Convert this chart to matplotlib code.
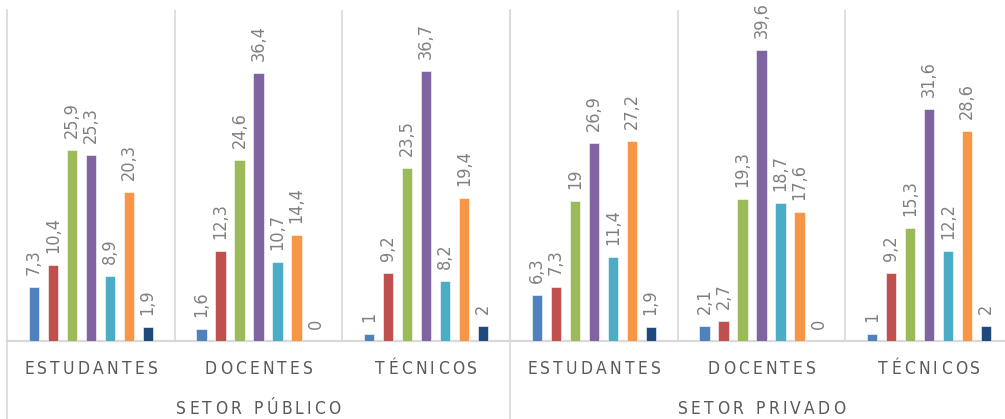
import numpy as np
import matplotlib
matplotlib.use('Agg')
import matplotlib.pyplot as plt
from matplotlib.font_manager import FontProperties

# data
setores = ['SETOR PÚBLICO', 'SETOR PRIVADO']
categorias = ['ESTUDANTES', 'DOCENTES', 'TÉCNICOS', 'ESTUDANTES', 'DOCENTES', 'TÉCNICOS']

serie1 = [7.3, 1.6, 1, 6.3, 2.1, 1]
serie2 = [10.4, 12.3, 9.2, 7.3, 2.7, 9.2]
serie3 = [25.9, 24.6, 23.5, 19, 19.3, 15.3]
serie4 = [25.3, 36.4, 36.7, 26.9, 39.6, 31.6]
serie5 = [8.9, 10.7, 8.2, 11.4, 18.7, 12.2]
serie6 = [20.3, 14.4, 19.4, 27.2, 17.6, 28.6]
serie7 = [1.9, 0, 2, 1.9, 0, 2]

series = [serie1, serie2, serie3, serie4, serie5, serie6, serie7]
cores = ['#4F81BD', '#C0504D', '#9BBB59', '#8064A2', '#4BACC6', '#F79646', '#1F497D']

plt.rcParams['font.family'] = ['DejaVu Sans']
plt.rcParams['font.stretch'] = 'condensed'

fig = plt.figure(figsize=(10.05, 4.19), dpi=100)
W, H = 1005.0, 419.0
# axes from x=7 to x=1013 px (last group runs past the edge), y=10 to 341 px
ax = fig.add_axes([7 / W, 1 - 341 / H, (1013 - 7) / W, (341 - 10) / H])
ax.set_xlim(0, 6)
ax.set_ylim(0, 45)
ax.axis('off')

pitch = 0.1131
largura = 0.0615
x = np.arange(6) + 0.5
for j, (vals, cor) in enumerate(zip(series, cores)):
    xs = x + (j - 3) * pitch
    ax.bar(xs, vals, width=largura, color=cor, edgecolor='white', linewidth=0.4, zorder=3)
    for xi, v in zip(xs, vals):
        txt = ('%g' % v).replace('.', ',')
        ax.annotate(txt, (xi, v), xytext=(0, 12), textcoords='offset pixels',
                    rotation=90, ha='center', va='bottom', fontsize=13,
                    color='#808080')

# baseline and separators
ax.axhline(0, color='#D9D9D9', linewidth=1.6, zorder=2, clip_on=False)
for k in range(1, 6):
    ax.axvline(k, ymin=0, ymax=1, color='#D9D9D9', linewidth=1.2, zorder=1)

# separators running through the label area (left edge and sector split)
for xf in [7 / W, 510 / W]:
    fig.add_artist(plt.Line2D([xf, xf], [0, 1 - 10 / H], color='#D9D9D9', linewidth=1.2))

renderer = fig.canvas.get_renderer()


def texto_espacado(xc, yb, s, size, gap, espaco):
    # draws s letter by letter (letter spacing), centred at pixel xc, baseline yb
    prop = FontProperties(family='DejaVu Sans', stretch='condensed', size=size)
    larguras = []
    for ch in s:
        if ch == ' ':
            larguras.append(espaco)
        else:
            w, h, d = renderer.get_text_width_height_descent(ch, prop, ismath=False)
            larguras.append(w)
    total = sum(larguras) + gap * (len(s) - 1)
    xp = xc - total / 2
    for ch, w in zip(s, larguras):
        if ch != ' ':
            fig.text(xp / W, 1 - yb / H, ch, fontproperties=prop, color='#595959',
                     ha='left', va='baseline')
        xp += w + gap


for i, cat in enumerate(categorias):
    xc = 7 + (1013 - 7) / 6 * (i + 0.5)
    texto_espacado(xc, 374, cat, 12.5, 3.2, 6)

for i, s in enumerate(setores):
    xc = 7 + (1013 - 7) / 2 * (i + 0.5)
    texto_espacado(xc, 414, s, 12.5, 3.2, 6)

fig.savefig('out.png', dpi=100, facecolor='white')
